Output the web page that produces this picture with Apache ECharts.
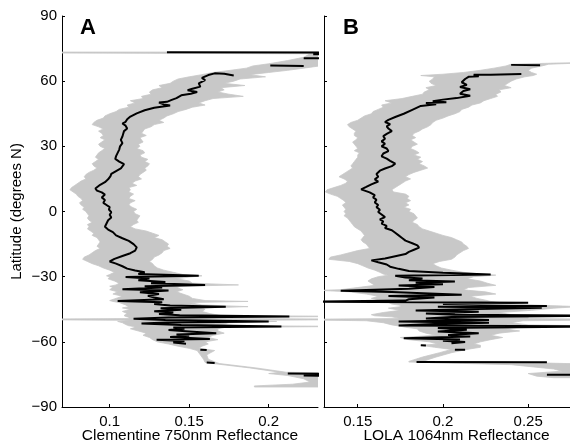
<!DOCTYPE html>
<html>
<head>
<meta charset="utf-8">
<script src="https://cdn.jsdelivr.net/npm/echarts@6/dist/echarts.min.js"></script>
<style>
html,body{margin:0;padding:0;background:#fff;}
#chart{width:570px;height:444px;}
</style>
</head>
<body>
<div id="chart"></div>
<script>
// ---- data ----
var latTicks = [-90, -60, -30, 0, 30, 60, 90];
var xTicksA = [0.1, 0.15, 0.2];
var xTicksB = [0.15, 0.2, 0.25];
var panelLabels = ['A', 'B'];
var xNames = ['Clementine 750nm Reflectance', 'LOLA 1064nm Reflectance'];
var yName = 'Latitude (degrees N)';

// Panel A: gray band rows [latitude, low, high]
var bandA = [
[73.4,0.05,0.26],[73.0,0.05,0.26],[72.6,0.226,0.26],[71,0.222,0.26],[69.5,0.212,0.245],[68,0.200,0.238],[67,0.190,0.232],
[66,0.186,0.222],[65,0.176,0.212],[64,0.165,0.200],[63,0.158,0.188],[62,0.150,0.198],[61,0.143,0.182],[60,0.140,0.178],
[59,0.138,0.172],[58,0.131,0.185],[57,0.133,0.170],[56,0.127,0.172],[55,0.125,0.168],[54,0.126,0.175],[53,0.120,0.184],
[52,0.121,0.165],[51,0.113,0.160],[50,0.116,0.156],[49,0.111,0.160],[48,0.112,0.152],[47,0.106,0.148],[46,0.104,0.143],
[45,0.100,0.140],[44,0.097,0.136],[43,0.096,0.134],[42,0.092,0.131],[41,0.090,0.134],[40,0.089,0.128],[39,0.093,0.126],
[38,0.096,0.122],[37,0.093,0.121],[36,0.095,0.120],[35,0.096,0.123],[34,0.094,0.119],[33,0.097,0.120],[32,0.095,0.121],
[31,0.093,0.118],[30,0.094,0.119],[29,0.097,0.117],[28,0.095,0.121],[27,0.093,0.122],[26,0.092,0.119],[25,0.091,0.120],
[24,0.093,0.124],[23,0.091,0.122],[22,0.089,0.125],[21,0.090,0.124],[20,0.092,0.122],[19,0.090,0.123],[18,0.087,0.121],
[17,0.085,0.119],[16,0.084,0.118],[15,0.085,0.120],[14,0.082,0.116],[13,0.080,0.114],[12,0.078,0.117],[11,0.076,0.112],
[10,0.075,0.113],[9,0.077,0.112],[8,0.079,0.115],[7,0.080,0.113],[6,0.082,0.112],[5,0.083,0.116],[4,0.081,0.113],
[3,0.082,0.112],[2,0.084,0.114],[1,0.083,0.117],[0,0.085,0.115],[-1,0.086,0.116],[-2,0.087,0.119],[-3,0.086,0.118],
[-4,0.087,0.117],[-5,0.089,0.118],[-6,0.086,0.115],[-7,0.087,0.113],[-8,0.086,0.116],[-9,0.088,0.123],[-10,0.090,0.127],
[-11,0.089,0.131],[-12,0.092,0.128],[-13,0.093,0.133],[-14,0.094,0.135],[-15,0.093,0.137],[-16,0.092,0.136],[-17,0.094,0.138],
[-18,0.091,0.134],[-19,0.089,0.133],[-20,0.087,0.131],[-21,0.084,0.128],[-22,0.083,0.127],[-23,0.086,0.125],[-24,0.089,0.127],
[-25,0.093,0.128],[-26,0.096,0.130],[-27,0.100,0.134],[-28,0.103,0.140],[-29,0.100,0.146],[-29.6,0.098,0.158],[-30.2,0.100,0.150],
[-31,0.099,0.142],[-32,0.103,0.150],[-33,0.106,0.152],[-33.8,0.104,0.181],[-34.4,0.100,0.145],[-35,0.102,0.142],[-36,0.100,0.146],
[-37,0.105,0.142],[-38,0.102,0.146],[-39,0.108,0.150],[-40,0.104,0.152],[-41,0.100,0.160],[-41.4,0.102,0.187],[-41.9,0.106,0.150],
[-43,0.110,0.158],[-43.8,0.112,0.187],[-44.4,0.108,0.158],[-45,0.113,0.160],[-46,0.108,0.158],[-47,0.111,0.163],[-47.9,0.109,0.170],
[-48.3,0.110,0.26],[-48.7,0.112,0.168],[-49.3,0.112,0.165],[-49.5,0.05,0.26],[-49.8,0.05,0.26],[-50.1,0.114,0.168],[-50.6,0.105,0.205],
[-51.2,0.108,0.175],[-52,0.110,0.170],[-52.6,0.112,0.180],[-52.9,0.115,0.26],[-53.3,0.116,0.172],[-54,0.113,0.168],[-55,0.118,0.168],
[-56,0.123,0.172],[-57,0.121,0.165],[-58,0.125,0.162],[-59,0.127,0.168],[-60,0.130,0.160],[-61,0.137,0.162],[-62,0.143,0.158],
[-63,0.150,0.156],[-64,0.155,0.166],[-66,0.157,0.161],[-68,0.159,0.162],[-69.5,0.160,0.167],[-70,0.165,0.169],[-72,0.188,0.192],
[-74,0.207,0.211],[-74.6,0.200,0.26],[-75.5,0.212,0.26],[-77,0.222,0.26],[-78.5,0.226,0.26],[-79.5,0.215,0.26],[-80.3,0.191,0.26],
[-80.8,0.191,0.26]
];

// Panel A: black profile [reflectance, latitude], null = gap
var lineA = [
[0.136,73.3],[0.26,73.2],null,[0.228,72.4],[0.26,72.3],null,[0.222,70.6],[0.26,70.4],null,[0.201,67.2],[0.222,67.0],null,
[0.178,62.6],[0.172,63.4],[0.166,63.6],[0.162,62.8],[0.158,61.5],[0.160,60.5],[0.156,59.0],[0.157,57.5],[0.152,56.5],
[0.149,55.8],[0.155,55.0],[0.151,54.2],[0.145,53.5],[0.142,52.2],[0.139,51.4],[0.136,50.5],[0.131,50.2],[0.134,49.3],
[0.138,48.8],[0.128,47.8],[0.122,46.6],[0.117,45.2],[0.113,43.7],[0.111,42.5],[0.110,41.3],[0.108,40.5],[0.110,39.5],
[0.111,38.2],[0.109,37.0],[0.1085,35.8],[0.108,34.5],[0.107,33.0],[0.108,31.5],[0.1065,30.0],[0.106,28.5],[0.105,27.0],
[0.104,25.5],[0.1035,24.2],[0.106,23.0],[0.109,21.8],[0.110,20.9],[0.107,19.8],[0.104,18.6],[0.101,17.3],[0.1005,16.3],
[0.099,14.8],[0.097,13.5],[0.094,12.3],[0.091,10.6],[0.092,9.6],[0.095,8.8],[0.097,7.8],[0.095,6.5],[0.097,5.3],
[0.096,4.0],[0.098,3.0],[0.100,2.0],[0.0995,0.9],[0.101,-0.3],[0.100,-1.5],[0.101,-2.8],[0.099,-4.0],[0.098,-5.5],
[0.097,-7.0],[0.099,-8.3],[0.102,-9.5],[0.104,-11],[0.108,-12.3],[0.112,-13.5],[0.115,-15],[0.117,-16.5],[0.116,-18],
[0.113,-19.2],[0.108,-20.5],[0.103,-21.8],[0.100,-23],[0.104,-24],[0.108,-25.2],[0.111,-26.3],[0.116,-27.2],[0.122,-28.0],
[0.118,-28.8],[0.156,-29.6],[0.110,-30.2],[0.125,-30.9],[0.118,-31.6],[0.135,-32.4],[0.126,-33.0],[0.160,-33.8],[0.122,-34.4],
[0.133,-35.0],[0.108,-35.8],[0.137,-36.4],[0.119,-37.2],[0.131,-38.0],[0.124,-38.8],[0.128,-39.6],[0.134,-40.4],[0.105,-41.2],
[0.133,-41.8],[0.128,-42.6],[0.138,-43.3],[0.173,-43.9],[0.132,-44.5],[0.145,-45.2],[0.128,-45.9],[0.140,-46.5],[0.131,-47.2],
[0.144,-47.8],[0.213,-48.3],[0.137,-48.8],[0.115,-49.4],[0.135,-49.9],[0.200,-50.6],[0.136,-51.1],[0.120,-51.6],[0.145,-52.2],
[0.208,-52.9],[0.140,-53.4],[0.147,-54.0],[0.137,-54.6],[0.150,-55.2],[0.167,-56.0],[0.142,-56.6],[0.150,-57.2],[0.138,-57.8],
[0.163,-58.7],[0.1295,-59.0],[0.147,-59.6],[0.140,-60.3],[0.148,-60.9],null,[0.157,-63.6],[0.161,-63.8],null,
[0.161,-69.5],[0.166,-69.7],null,[0.212,-74.6],[0.26,-74.9],[0.222,-75.5],[0.26,-75.9]
];

// Panel B: gray band rows [latitude, low, high]
var bandB = [
[69.0,0.300,0.302],[67.8,0.240,0.262],[67.0,0.237,0.258],[66.0,0.230,0.252],[65.0,0.222,0.250],[64.0,0.212,0.252],[63.2,0.200,0.255],
[62.6,0.187,0.253],[62.0,0.195,0.248],[61.0,0.194,0.243],[60.0,0.192,0.240],[59.0,0.193,0.238],[58.0,0.196,0.236],[57.0,0.190,0.240],
[56.0,0.192,0.233],[55.0,0.189,0.234],[54.0,0.188,0.231],[53.0,0.182,0.232],[52.0,0.176,0.228],[51.0,0.166,0.224],[50.0,0.170,0.222],
[49.0,0.164,0.217],[48.0,0.165,0.215],[47.0,0.162,0.211],[46.0,0.159,0.210],[45.0,0.158,0.207],[44.0,0.154,0.203],[43.0,0.152,0.200],
[42.0,0.150,0.196],[41.0,0.146,0.194],[40.0,0.144,0.193],[39.0,0.145,0.191],[38.0,0.147,0.188],[37.0,0.149,0.186],[36.0,0.148,0.183],
[35.0,0.148,0.182],[34.0,0.150,0.184],[33.0,0.149,0.181],[32.0,0.147,0.183],[31.0,0.148,0.185],[30.0,0.149,0.182],[29.0,0.150,0.181],
[28.0,0.148,0.184],[27.0,0.151,0.186],[26.0,0.150,0.183],[25.0,0.150,0.187],[24.0,0.149,0.185],[23.0,0.148,0.188],[22.0,0.147,0.186],
[21.0,0.146,0.189],[20.0,0.147,0.191],[19.0,0.145,0.187],[18.0,0.143,0.183],[17.0,0.141,0.180],[16.0,0.139,0.178],[15.0,0.142,0.181],
[14.0,0.144,0.178],[13.0,0.143,0.176],[12.0,0.140,0.174],[11.0,0.136,0.172],[10.0,0.132,0.170],[9.0,0.131,0.171],[8.0,0.134,0.178],
[7.0,0.138,0.180],[6.0,0.140,0.179],[5.0,0.142,0.181],[4.0,0.143,0.178],[3.0,0.141,0.180],[2.0,0.142,0.177],[1.0,0.143,0.181],
[0.0,0.142,0.180],[-1.0,0.143,0.183],[-2.0,0.142,0.184],[-3.0,0.144,0.185],[-4.0,0.145,0.183],[-5.0,0.146,0.182],[-6.0,0.147,0.185],
[-7.0,0.148,0.186],[-8.0,0.150,0.188],[-9.0,0.152,0.192],[-10.0,0.153,0.196],[-11.0,0.154,0.200],[-12.0,0.153,0.205],[-13.0,0.152,0.208],
[-14.0,0.153,0.211],[-15.0,0.155,0.212],[-16.0,0.156,0.214],[-17.0,0.157,0.215],[-18.0,0.150,0.212],[-19.0,0.145,0.210],[-20.0,0.140,0.208],
[-21.0,0.134,0.207],[-22.0,0.133,0.205],[-23.0,0.145,0.198],[-24.0,0.150,0.194],[-25.0,0.153,0.196],[-26.0,0.156,0.199],[-27.0,0.160,0.205],
[-28.0,0.163,0.212],[-28.8,0.165,0.222],[-29.3,0.168,0.231],[-30.0,0.162,0.218],[-31.0,0.158,0.214],[-32.0,0.156,0.222],[-33.0,0.158,0.226],
[-34.0,0.160,0.231],[-35.0,0.150,0.215],[-36.0,0.140,0.212],[-36.3,0.128,0.215],[-37.0,0.145,0.225],[-38.0,0.155,0.231],[-39.0,0.162,0.216],
[-40.0,0.158,0.220],[-41.0,0.165,0.226],[-41.4,0.128,0.228],[-41.8,0.168,0.232],[-42.6,0.170,0.240],[-43.2,0.175,0.258],[-43.8,0.175,0.280],
[-44.5,0.168,0.265],[-45.5,0.175,0.252],[-46.5,0.165,0.233],[-47.5,0.158,0.240],[-48.0,0.160,0.300],[-48.5,0.170,0.250],[-49.3,0.175,0.250],
[-49.6,0.120,0.300],[-49.9,0.120,0.300],[-50.3,0.155,0.247],[-51.2,0.165,0.240],[-52.2,0.170,0.250],[-52.8,0.175,0.300],[-53.3,0.178,0.245],
[-54.0,0.185,0.236],[-55.0,0.186,0.245],[-56.0,0.190,0.233],[-57.0,0.196,0.228],[-58.0,0.175,0.235],[-59.0,0.180,0.228],[-60.0,0.192,0.222],
[-61.0,0.197,0.218],[-61.6,0.187,0.222],[-62.5,0.195,0.222],[-63.5,0.205,0.214],[-65.0,0.198,0.205],[-67.0,0.188,0.196],[-69.0,0.180,0.188],
[-69.3,0.180,0.235],[-70.5,0.240,0.300],[-72.5,0.265,0.300],[-73.5,0.270,0.300],[-74.6,0.250,0.300],[-75.8,0.255,0.300],[-76.5,0.265,0.300]
];

// Panel B: black profile [reflectance, latitude], null = gap
var lineB = [
[0.240,67.5],[0.257,67.3],null,
[0.246,63.3],[0.228,62.9],[0.218,62.9],[0.221,62.3],[0.215,62.0],[0.213,61.0],[0.211,59.5],[0.214,58.3],[0.210,57.3],
[0.216,56.3],[0.212,55.5],[0.210,54.2],[0.216,53.3],[0.208,52.2],[0.200,51.5],[0.194,50.8],[0.202,50.3],[0.190,50.0],
[0.196,49.4],[0.187,48.6],[0.182,46.8],[0.177,45.0],[0.172,43.5],[0.168,42.2],[0.166,41.2],[0.169,40.2],[0.167,39.2],
[0.168,38.2],[0.170,37.0],[0.167,35.7],[0.165,34.7],[0.166,33.5],[0.164,32.3],[0.166,31.2],[0.164,30.0],[0.167,29.0],
[0.168,27.8],[0.165,26.7],[0.164,25.4],[0.167,24.3],[0.169,23.3],[0.172,22.0],[0.170,20.9],[0.166,19.8],[0.163,18.8],
[0.161,17.3],[0.162,16.0],[0.160,14.8],[0.162,13.8],[0.158,12.5],[0.155,11.3],[0.152,10.2],[0.153,9.5],[0.157,8.8],
[0.160,7.5],[0.159,6.5],[0.161,5.4],[0.160,4.2],[0.162,3.0],[0.161,2.0],[0.163,0.8],[0.162,-0.2],[0.164,-1.4],
[0.166,-2.6],[0.163,-3.6],[0.165,-4.6],[0.164,-5.6],[0.167,-6.6],[0.166,-7.6],[0.170,-8.6],[0.172,-9.8],[0.174,-11.0],
[0.176,-12.2],[0.178,-13.4],[0.182,-14.6],[0.185,-15.6],[0.186,-16.6],[0.183,-17.6],[0.180,-18.6],[0.178,-19.6],[0.172,-20.6],
[0.166,-21.6],[0.158,-22.5],[0.162,-23.4],[0.167,-24.4],[0.169,-25.4],[0.174,-26.4],[0.180,-27.4],[0.200,-28.2],[0.228,-29.0],
[0.172,-29.6],[0.178,-30.4],[0.188,-30.9],[0.180,-31.6],[0.207,-32.2],[0.184,-32.8],[0.200,-33.5],[0.174,-34.1],[0.195,-34.8],
[0.180,-35.6],[0.140,-36.5],[0.170,-37.1],[0.192,-37.7],[0.211,-38.3],[0.168,-38.9],[0.195,-39.6],[0.180,-40.4],[0.178,-41.0],
[0.128,-41.5],[0.250,-42.0],[0.200,-42.6],[0.261,-43.5],[0.197,-43.9],[0.258,-44.3],[0.220,-44.9],[0.184,-45.6],[0.221,-46.2],
[0.190,-46.9],[0.207,-47.5],[0.300,-48.0],[0.205,-48.6],[0.190,-49.3],[0.227,-49.9],[0.174,-50.6],[0.227,-51.2],[0.195,-51.8],
[0.174,-52.5],[0.300,-52.9],[0.197,-53.6],[0.214,-54.4],[0.197,-55.2],[0.221,-56.0],[0.203,-56.8],[0.216,-57.6],[0.177,-58.3],
[0.210,-58.9],[0.200,-59.5],[0.213,-60.1],[0.205,-60.7],null,[0.187,-61.6],[0.190,-61.7],null,[0.207,-63.6],[0.213,-63.7],null,
[0.1845,-69.3],[0.261,-69.4],null,[0.261,-75.1],[0.300,-75.3]
];

// ---- chart ----
var FONT = '"Liberation Sans", Arial, Helvetica, sans-serif';
var GRAY = '#c8c8c8';

function lineData(rows) {
  return rows.map(function (r) { return r === null ? ['-', '-'] : r; });
}

function bandRender(rows) {
  return function (params, api) {
    if (params.dataIndex !== 0) return;
    var pts = [];
    for (var i = 0; i < rows.length; i++) pts.push(api.coord([rows[i][1], rows[i][0]]));
    for (var j = rows.length - 1; j >= 0; j--) pts.push(api.coord([rows[j][2], rows[j][0]]));
    return {
      type: 'polygon',
      shape: { points: pts },
      style: { fill: GRAY, stroke: GRAY, lineWidth: 0.8 }
    };
  };
}

function xAxisCfg(idx, min, max, ticks, name) {
  return {
    type: 'value', gridIndex: idx, min: min, max: max,
    name: name, nameLocation: 'middle', nameGap: 21, nameMoveOverlap: false,
    nameTextStyle: { fontFamily: FONT, fontSize: 15.5, color: '#000', verticalAlign: 'top' },
    axisLine: { show: true, onZero: false, lineStyle: { color: '#000', width: 1 } },
    axisTick: { show: true, inside: true, length: 3, customValues: ticks, lineStyle: { color: '#000' } },
    axisLabel: { show: true, customValues: ticks, margin: 7, fontFamily: FONT, fontSize: 15, color: '#000',
      formatter: function (v) { return String(Math.round(v * 1000) / 1000); } },
    splitLine: { show: false }
  };
}

function yAxisCfg(idx, showLabels) {
  return {
    type: 'value', gridIndex: idx, min: -90, max: 90, interval: 30,
    name: showLabels ? yName : '', nameLocation: 'middle', nameGap: 38, nameMoveOverlap: false,
    nameTextStyle: { fontFamily: FONT, fontSize: 15, color: '#000' },
    axisLine: { show: true, onZero: false, lineStyle: { color: '#000', width: 1 } },
    axisTick: { show: true, inside: true, length: 3, lineStyle: { color: '#000' } },
    axisLabel: { show: showLabels, margin: 5, fontFamily: FONT, fontSize: 15, color: '#000',
      formatter: function (v) { return String(v).replace('-', '\u2212'); } },
    splitLine: { show: false }
  };
}

var chart = echarts.init(document.getElementById('chart'), null, { renderer: 'canvas' });
chart.setOption({
  animation: false,
  backgroundColor: '#fff',
  title: [
    { text: panelLabels[0], left: 75, top: 12, textStyle: { fontFamily: FONT, fontSize: 22, fontWeight: 'bold', color: '#000' } },
    { text: panelLabels[1], left: 338, top: 12, textStyle: { fontFamily: FONT, fontSize: 22, fontWeight: 'bold', color: '#000' } }
  ],
  grid: [
    { left: 62, top: 16, width: 256, height: 391, outerBoundsMode: 'none', containLabel: false },
    { left: 324, top: 16, width: 265, height: 391, outerBoundsMode: 'none', containLabel: false }
  ],
  xAxis: [
    xAxisCfg(0, 0.07, 0.231, xTicksA, xNames[0]),
    xAxisCfg(1, 0.1302, 0.2857, xTicksB, xNames[1])
  ],
  yAxis: [yAxisCfg(0, true), yAxisCfg(1, false)],
  series: [
    { type: 'custom', xAxisIndex: 0, yAxisIndex: 0, clip: true, silent: true, z: 1,
      data: bandA.map(function (r) { return [r[1], r[0], r[2]]; }), renderItem: bandRender(bandA) },
    { type: 'line', xAxisIndex: 0, yAxisIndex: 0, clip: true, silent: true, z: 3, showSymbol: false, symbol: 'none',
      connectNulls: false, data: lineData(lineA), lineStyle: { color: '#000', width: 2 } },
    { type: 'custom', xAxisIndex: 1, yAxisIndex: 1, clip: true, silent: true, z: 1,
      data: bandB.map(function (r) { return [r[1], r[0], r[2]]; }), renderItem: bandRender(bandB) },
    { type: 'line', xAxisIndex: 1, yAxisIndex: 1, clip: true, silent: true, z: 3, showSymbol: false, symbol: 'none',
      connectNulls: false, data: lineData(lineB), lineStyle: { color: '#000', width: 2 } }
  ]
});
</script>
</body>
</html>
